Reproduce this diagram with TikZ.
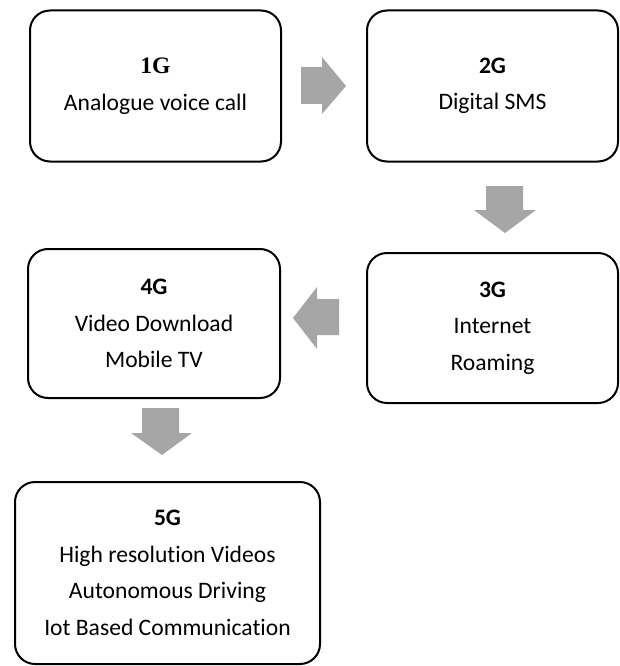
\documentclass[tikz,border=0pt]{standalone}
\usepackage{fontspec}
\setmainfont[Ligatures=NoCommon]{Carlito}
\newfontfamily\timesbf{Liberation Serif}
\definecolor{arrowgray}{HTML}{A6A6A6}
\tikzset{
  genbox/.style={draw=black, line width=2pt, rounded corners=20pt, inner sep=0pt,
    align=center, font={\fontsize{23.6}{36.5}\selectfont}},
  blockarrow/.style={fill=arrowgray, draw=none},
}
\begin{document}
\begin{tikzpicture}[x=1pt,y=-1pt]
\useasboundingbox (0,0) rectangle (619,666);
\node[genbox, minimum width=251pt, minimum height=151pt] (g1) at (155.5,86) {{\timesbf\bfseries 1G}\\Analogue voice call};
\node[genbox, minimum width=251pt, minimum height=151pt] (g2) at (492.5,86) {\textbf{2G}\\Digital SMS};
\node[genbox, minimum width=251pt, minimum height=150pt] (g3) at (492.5,328) {\textbf{3G}\\Internet\\Roaming};
\node[genbox, minimum width=252pt, minimum height=149pt] (g4) at (154,323.5) {\textbf{4G}\\Video Download\\Mobile TV};
\node[genbox, minimum width=305pt, minimum height=182pt] (g5) at (167.5,573) {\textbf{5G}\\High resolution Videos\\Autonomous Driving\\Iot Based Communication};
% block arrows
\fill[blockarrow] (301,67) -- (322,67) -- (322,57) -- (346,86) -- (322,114) -- (322,104) -- (301,104) -- cycle;
\fill[blockarrow] (486,186) -- (523,186) -- (523,210) -- (536,210) -- (505,233) -- (474,210) -- (486,210) -- cycle;
\fill[blockarrow] (339,299) -- (317,299) -- (317,287) -- (293,318) -- (317,349) -- (317,335) -- (339,335) -- cycle;
\fill[blockarrow] (142,408) -- (179,408) -- (179,433) -- (192,433) -- (162,455) -- (131,433) -- (142,433) -- cycle;
\end{tikzpicture}
\end{document}
